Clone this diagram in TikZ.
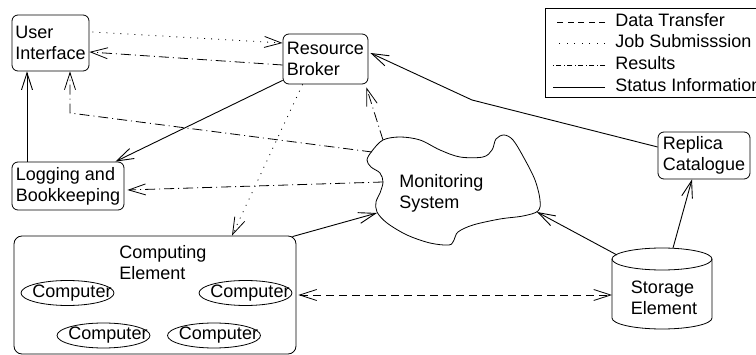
\documentclass[tikz,border=0pt]{standalone}
\usepackage{fontspec}
\setmainfont{Liberation Sans}
\usetikzlibrary{arrows.meta}
\begin{document}
\begin{tikzpicture}[x=1pt,y=-1pt,
  line width=0.8pt,
  >={Straight Barb[length=17pt,width=11pt]},
  every node/.style={font=\fontsize{18}{21}\selectfont, inner sep=0pt},
  box/.style={draw, rounded corners=6pt, align=left},
  link/.style={->},
  datalink/.style={link, dash pattern=on 8pt off 5pt},
  joblink/.style={link, dash pattern=on 1pt off 6pt},
  reslink/.style={link, dash pattern=on 10pt off 4pt on 1pt off 4pt},
  statlink/.style={link, line width=0.9pt},
  legtext/.style={anchor=west, text height=13pt, text depth=4pt},
]
\useasboundingbox (0,0) rectangle (756,355);

% main components
\node[box, minimum width=77pt, minimum height=56pt] (ui) at (50.5,43) {User\\Interface};
\node[box, minimum width=85pt, minimum height=50pt] (rb) at (325.5,59) {Resource\\Broker};
\node[box, minimum width=112pt, minimum height=48pt] (lb) at (68,186) {Logging and\\Bookkeeping};
\node[box, minimum width=92pt, minimum height=47pt] (rc) at (704,155.5) {Replica\\Catalogue};

% computing element with its computers
\node[box, rounded corners=8pt, minimum width=282pt, minimum height=118pt] (ce) at (155,295) {};
\node[anchor=west, align=left] (cet) at (119,263) {Computing\\Element};
\node (c1) at (72,293) {Computer};
\node (c2) at (250,293) {Computer};
\node (c3) at (108,335.5) {Computer};
\node (c4) at (218.5,335.5) {Computer};
\foreach \c in {c1,c2,c3,c4}
  \draw ([xshift=-4.5pt]\c.center) ellipse [x radius=46.5pt, y radius=12.5pt];

% monitoring system cloud
\draw plot[smooth cycle, tension=0.55] coordinates {
  (383,140) (400,137) (420,140) (440,150) (460,157) (483,157) (492,150)
  (496,139) (504,135) (513,140) (524,158) (535,180) (540,200) (538,211)
  (523,216) (500,219) (473,225) (458,232) (454,240) (449,245) (430,243)
  (407,235) (387,223) (377,212) (376,202) (380,193) (383,182) (380,173)
  (371,167) (367,160) (372,151)};
\node[anchor=west, align=left] (ms) at (399,193) {Monitoring\\System};
\coordinate (msA) at (372,152);
\coordinate (msB) at (383,140);
\coordinate (msC) at (383,182);
\coordinate (msD) at (537,212);
\coordinate (msE) at (377,213);

% storage element cylinder
\draw (662,259) ellipse [x radius=50pt, y radius=11pt];
\draw (612,259) -- (612,318) arc[start angle=180, end angle=360, x radius=50pt, y radius=11pt] -- (712,259);
\node[align=left] (se) at (664,298) {Storage\\Element};
\coordinate (seW) at (612,295);
\coordinate (seN) at (673,248);
\coordinate (seNW) at (617,255);

% bend points
\coordinate (uibend) at (70,113);
\coordinate (rcbend) at (472,100);

% connectors
\draw[joblink] ([xshift=3pt,yshift=11pt]ui.east) -- ([yshift=16pt]rb.west);
\draw[reslink] ([yshift=-6pt]rb.west) -- ([yshift=-9pt]ui.east);
\draw[statlink] ([yshift=4pt]rb.south west) -- ([xshift=-9pt]lb.north east);
\draw[statlink] ([xshift=-41pt]lb.north) -- ([xshift=-41pt]lb.north |- ui.south);
\draw[reslink] (msA) -- (uibend) -- (uibend |- ui.south);
\draw[reslink] (msB) -- ([xshift=-2pt,yshift=-3pt]rb.south east);
\draw[reslink] (msC) -- ([xshift=3pt,yshift=-4pt]lb.east);
\draw[statlink] ([yshift=8.5pt]rc.west) -- (rcbend) -- ([xshift=2pt,yshift=6pt]rb.east);
\draw[statlink] (seN) -- ([xshift=-12pt]rc.south);
\draw[statlink] (seNW) -- (msD);
\draw[statlink] ([xshift=-4pt,yshift=-1pt]ce.north east) -- (msE);
\draw[joblink] ([xshift=20pt]rb.south west) -- ([xshift=77pt]ce.north);
\draw[datalink, <->] ([xshift=2pt]ce.east) -- (seW);

% legend
\node[draw, minimum width=230pt, minimum height=89pt] (legend) at (660,52.5) {};
\node[legtext] (l1) at (615,22) {Data Transfer};
\node[legtext] (l2) at (615,43) {Job Submisssion};
\node[legtext] (l3) at (615,65) {Results};
\node[legtext] (l4) at (615,87) {Status Information};
\draw[dash pattern=on 6pt off 4.5pt] ([xshift=-10pt]l1.west) -- ++(-52,0);
\draw[dash pattern=on 1pt off 6.5pt] ([xshift=-10pt]l2.west) -- ++(-52,0);
\draw[dash pattern=on 5pt off 2.5pt on 1pt off 2.5pt] ([xshift=-10pt]l3.west) -- ++(-52,0);
\draw ([xshift=-10pt]l4.west) -- ++(-52,0);
\end{tikzpicture}
\end{document}
